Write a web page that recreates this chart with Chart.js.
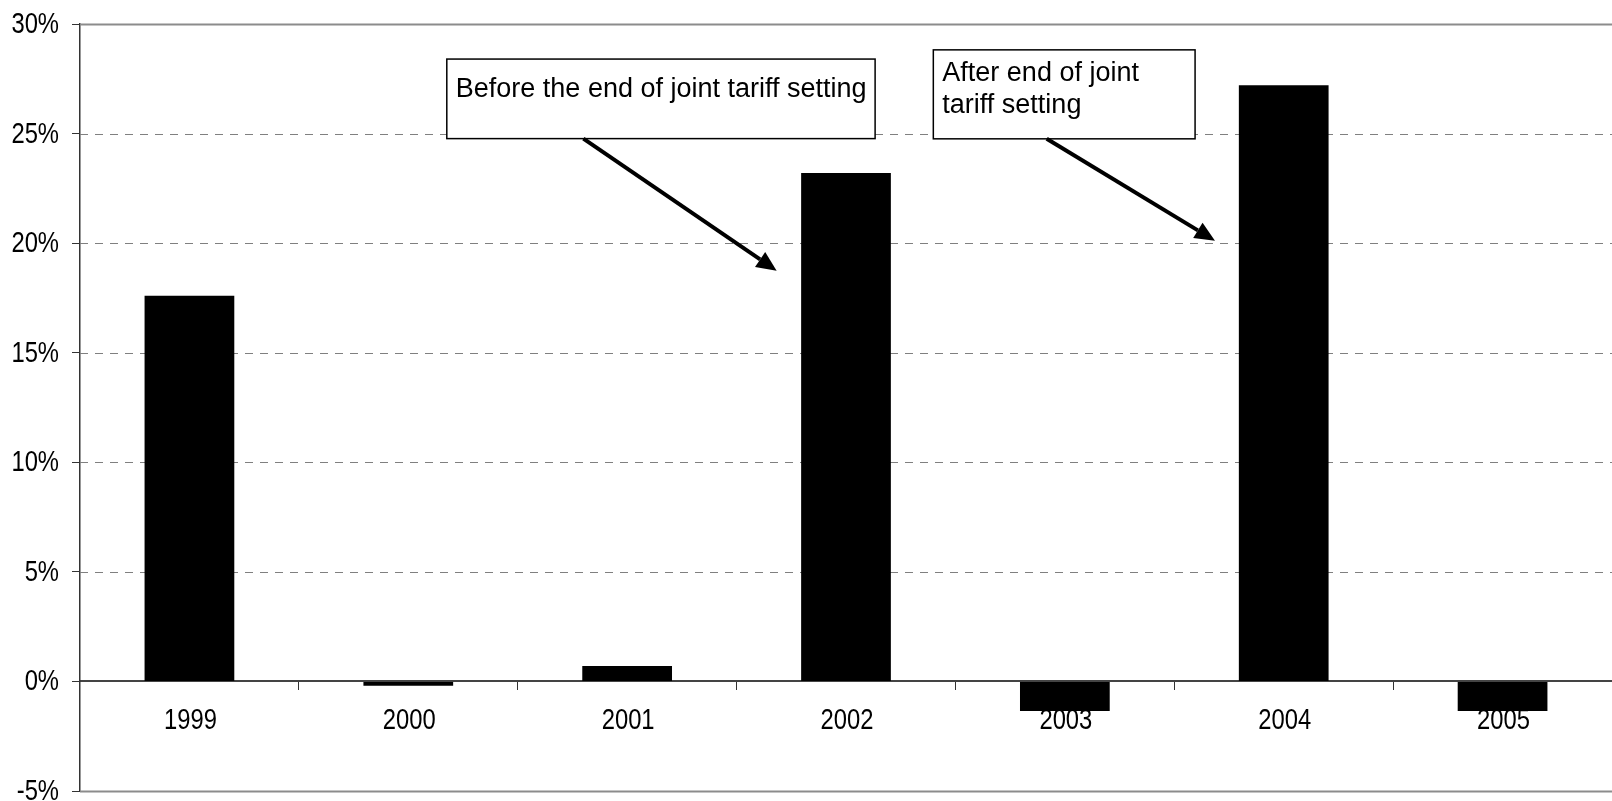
<!DOCTYPE html>
<html>
<head>
<meta charset="utf-8">
<title>Tariff change by year</title>
<script src="https://cdn.jsdelivr.net/npm/chart.js@4.4.1/dist/chart.umd.min.js"></script>
<style>
    html, body { margin: 0; padding: 0; background: #fff; }
    #wrap { width: 1612px; height: 801px; position: relative; }
</style>
</head>
<body>
<div id="wrap"><canvas id="tariffChart"></canvas></div>
<script>
// Data
const years = ['1999', '2000', '2001', '2002', '2003', '2004', '2005'];
const changes = [17.6, -0.2, 0.7, 23.2, -1.35, 27.2, -1.35];
const tickValues = [-5, 0, 5, 10, 15, 20, 25, 30];

const noteTexts = [
    ['Before the end of joint tariff setting'],
    ['After end of joint', 'tariff setting']
];

// Call-out boxes, placed in axis units (category index, percent)
const notes = [
    { lines: noteTexts[0], x0: 1.176, x1: 3.133, y0: 28.40, y1: 24.77, textTop: 38,
      from: [1.80, 24.77], to: [2.683, 18.74] },
    { lines: noteTexts[1], x0: 3.399, x1: 4.595, y0: 28.82, y1: 24.76, textTop: 31,
      from: [3.917, 24.76], to: [4.686, 20.11] }
];

const FONT = '"Liberation Sans", Arial, sans-serif';
Chart.defaults.font.family = FONT;
Chart.defaults.color = '#000';

// Axis labels in the reference are set in a tall, condensed face:
// Chart.js lays them out (transparent), this plugin paints them squeezed.
const LABEL_SIZE = 29, SQUEEZE = 0.82;
const axisLabelPlugin = {
    id: 'axisLabels',
    beforeDatasetsDraw(chart) {
        const { ctx, scales } = chart;
        ctx.save();
        ctx.fillStyle = '#000';
        ctx.font = LABEL_SIZE + 'px ' + FONT;

        // y axis labels, right aligned before the tick marks
        const yRight = scales.y.right - 8 - 13;
        ctx.textAlign = 'right';
        ctx.textBaseline = 'middle';
        tickValues.forEach(v => {
            const y = scales.y.getPixelForValue(v);
            ctx.save();
            ctx.translate(yRight, y + 1);
            ctx.scale(SQUEEZE, 1);
            ctx.fillText(v + '%', 0, 0);
            ctx.restore();
        });

        // category labels under the zero line
        const yLab = scales.y.getPixelForValue(0) + 40;
        ctx.textAlign = 'center';
        years.forEach((label, i) => {
            const x = scales.x.getPixelForValue(i) + 1;
            ctx.save();
            ctx.translate(x, yLab);
            ctx.scale(SQUEEZE, 1);
            ctx.fillText(label, 0, 0);
            ctx.restore();
        });
        ctx.restore();
    }
};

// Dashed grid lines, solid gray at top and bottom of the value range
const gridPlugin = {
    id: 'gridLines',
    beforeDatasetsDraw(chart) {
        const { ctx, chartArea, scales } = chart;
        const yMin = tickValues[0];
        const yMax = tickValues[tickValues.length - 1];
        ctx.save();
        tickValues.forEach(v => {
            if (v === 0) return;
            const y = Math.round(scales.y.getPixelForValue(v)) + 0.5;
            ctx.beginPath();
            if (v === yMin || v === yMax) {
                ctx.setLineDash([]);
                ctx.strokeStyle = '#8c8c8c';
                ctx.lineWidth = 2;
            } else {
                ctx.setLineDash([8, 7]);
                ctx.strokeStyle = '#808080';
                ctx.lineWidth = 1;
            }
            ctx.moveTo(chartArea.left, y);
            ctx.lineTo(chartArea.right, y);
            ctx.stroke();
        });
        ctx.restore();
    }
};

// Text boxes with arrows
const notesPlugin = {
    id: 'notes',
    afterDatasetsDraw(chart) {
        const { ctx, scales } = chart;
        const px = v => scales.x.getPixelForValue(v);
        const py = v => scales.y.getPixelForValue(v);
        ctx.save();
        notes.forEach(n => {
            const left = px(n.x0), right = px(n.x1);
            const top = py(n.y0), bottom = py(n.y1);

            ctx.fillStyle = '#fff';
            ctx.fillRect(left, top, right - left, bottom - top);
            ctx.strokeStyle = '#000';
            ctx.lineWidth = 1.5;
            ctx.strokeRect(left, top, right - left, bottom - top);

            ctx.fillStyle = '#000';
            ctx.font = '27px ' + FONT;
            ctx.textBaseline = 'alphabetic';
            ctx.textAlign = 'left';
            n.lines.forEach((line, i) => {
                ctx.fillText(line, left + 9, top + n.textTop + i * 31.7);
            });

            // arrow
            const x1 = px(n.from[0]), y1 = py(n.from[1]);
            const x2 = px(n.to[0]), y2 = py(n.to[1]);
            const ang = Math.atan2(y2 - y1, x2 - x1);
            const headLen = 20, headW = 9;
            const bx = x2 - headLen * Math.cos(ang);
            const by = y2 - headLen * Math.sin(ang);
            ctx.beginPath();
            ctx.lineWidth = 4;
            ctx.lineCap = 'butt';
            ctx.moveTo(x1, y1);
            ctx.lineTo(bx, by);
            ctx.stroke();
            ctx.beginPath();
            ctx.moveTo(x2, y2);
            ctx.lineTo(bx + headW * Math.sin(ang), by - headW * Math.cos(ang));
            ctx.lineTo(bx - headW * Math.sin(ang), by + headW * Math.cos(ang));
            ctx.closePath();
            ctx.fill();
        });
        ctx.restore();
    }
};

const ctx = document.getElementById('tariffChart').getContext('2d');
const tariffChart = new Chart(ctx, {
    type: 'bar',
    data: {
        labels: years,
        datasets: [{
            data: changes,
            backgroundColor: '#000',
            borderWidth: 0,
            categoryPercentage: 1,
            barPercentage: 0.41
        }]
    },
    options: {
        responsive: true,
        maintainAspectRatio: false,
        animation: false,
        layout: {
            padding: { left: 13, top: 24, right: 0, bottom: 10 }
        },
        plugins: {
            legend: { display: false },
            tooltip: { enabled: false }
        },
        scales: {
            x: {
                position: { y: 0 },
                grid: {
                    offset: true,
                    drawOnChartArea: false,
                    tickLength: 8,
                    tickColor: '#333'
                },
                border: { color: '#444', width: 2 },
                ticks: {
                    font: { size: 24 },
                    color: 'rgba(0,0,0,0)',
                    padding: 19,
                    maxRotation: 0
                }
            },
            y: {
                min: tickValues[0],
                max: tickValues[tickValues.length - 1],
                afterFit: function(scale) {
                    scale.width = 67;
                    scale.paddingTop = 0;
                    scale.paddingBottom = 0;
                },
                afterBuildTicks: function(scale) {
                    scale.ticks = tickValues.map(v => ({ value: v }));
                },
                grid: {
                    drawOnChartArea: false,
                    tickLength: 8,
                    tickColor: '#333'
                },
                border: { color: '#333', width: 1.5 },
                ticks: {
                    font: { size: 24 },
                    color: 'rgba(0,0,0,0)',
                    padding: 13,
                    callback: function(value) {
                        return value + '%';
                    }
                }
            }
        }
    },
    plugins: [gridPlugin, axisLabelPlugin, notesPlugin]
});
</script>
</body>
</html>
